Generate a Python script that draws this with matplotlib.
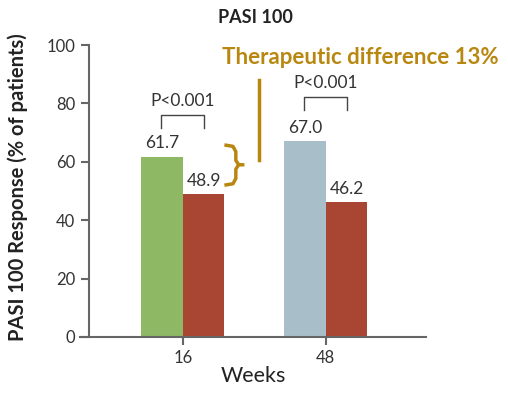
import matplotlib
matplotlib.use("Agg")
import matplotlib.pyplot as plt
import numpy as np

# data
weeks = ["16", "48"]
active_values = [61.7, 67.0]
comparator_values = [48.9, 46.2]
active_colors = ["#8fb865", "#a8bfca"]
comparator_color = "#a84533"
gold = "#b8870f"

plt.rcParams['font.family'] = ['Lato', 'DejaVu Sans']

fig = plt.figure(figsize=(5.08, 3.99), dpi=100)
ax = fig.add_axes([0.1575, 0.1554, 0.681, 0.7316])

x = np.arange(len(weeks))
w = 0.29
ax.bar(x - w / 2, active_values, width=w, color=active_colors)
ax.bar(x + w / 2, comparator_values, width=w, color=comparator_color)

# value labels
for i in range(len(weeks)):
    ax.annotate(f"{active_values[i]:.1f}", (x[i] - w / 2, active_values[i]),
                xytext=(0, 4), textcoords="offset points", ha="center", va="bottom",
                fontsize=12.5, color="#333333")
    ax.annotate(f"{comparator_values[i]:.1f}", (x[i] + w / 2, comparator_values[i]),
                xytext=(0, 4), textcoords="offset points", ha="center", va="bottom",
                fontsize=12.5, color="#333333")

# P value brackets
bracket_tops = [76, 82.2]
for i in range(len(weeks)):
    top = bracket_tops[i]
    ax.plot([x[i] - 0.15, x[i] - 0.15, x[i] + 0.15, x[i] + 0.15],
            [top - 4.3, top, top, top - 4.3], color="#444444", lw=1)
    ax.text(x[i], top + 2, "P<0.001", ha="center", va="bottom", fontsize=12.5, color="#333333")

# brace showing the therapeutic difference
bx = 0.29
ax.plot([bx, bx + 0.06, bx + 0.08, bx + 0.08, bx + 0.1, bx + 0.14],
        [65.8, 65.3, 63.5, 60.5, 59, 59], color=gold, lw=2.5, solid_capstyle="butt")
ax.plot([bx, bx + 0.06, bx + 0.08, bx + 0.08, bx + 0.1],
        [52, 52.5, 54.3, 57.5, 59], color=gold, lw=2.5, solid_capstyle="butt")
ax.plot([0.53, 0.53], [60.6, 88], color=gold, lw=2.5)
fig.text(0.437, 0.855, "Therapeutic difference 13%", color=gold, fontsize=16,
         fontweight="bold", va="center", ha="left")

ax.set_xlim(-0.72, 1.70)
ax.set_ylim(0, 100)
ax.set_yticks([0, 20, 40, 60, 80, 100])
ax.set_xticks(x)
ax.set_xticklabels(weeks)
ax.spines["top"].set_visible(False)
ax.spines["right"].set_visible(False)
ax.spines["left"].set_position(("data", -0.66))
for s in ["left", "bottom"]:
    ax.spines[s].set_color("#666666")
    ax.spines[s].set_linewidth(1.5)
ax.tick_params(colors="#666666", width=1.5, length=6, labelsize=12, labelcolor="#333333")
ax.set_xlabel("Weeks", fontsize=15.5, color="#222222", labelpad=0)
fig.text(0.035, 0.53, "PASI 100 Response (% of patients)", rotation=90, fontsize=14.5,
         fontweight="bold", ha="center", va="center", color="#222222")
fig.text(0.502, 0.955, "PASI 100", fontsize=13, fontweight="bold", ha="center",
         va="center", color="#222222")

fig.savefig("out.png", dpi=100)
